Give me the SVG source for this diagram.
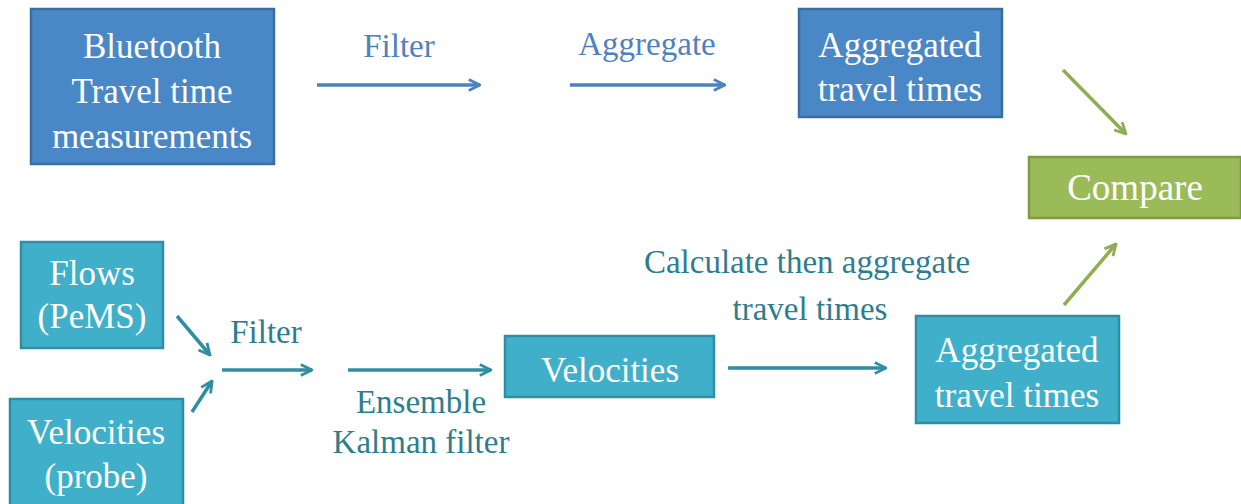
<svg xmlns="http://www.w3.org/2000/svg" width="1241" height="504" viewBox="0 0 1241 504">
<style>
text{font-family:"Liberation Serif","DejaVu Serif",serif;text-anchor:middle}
.bt{fill:#ffffff;font-size:35px}
.blue{fill:#4a87c6;stroke:#3b6d9f;stroke-width:2.5}
.cyan{fill:#40b0ca;stroke:#2f8ea4;stroke-width:2.5}
.green{fill:#9bbb59;stroke:#7e9a45;stroke-width:2.5}
.lb{fill:#4f81bd;font-size:33px}
.lc{fill:#2e7d8e;font-size:33px}
.ab{stroke:#4f81bd;stroke-width:3.5;fill:none;marker-end:url(#hb)}
.ac{stroke:#2f8ea4;stroke-width:3.5;fill:none;marker-end:url(#hc)}
.ag{stroke:#8fad52;stroke-width:3.5;fill:none;marker-end:url(#hg)}
</style>
<defs>
<marker id="hb" viewBox="0 0 10 10" refX="9" refY="5" markerWidth="4" markerHeight="4" orient="auto"><path d="M1,1 L9,5 L1,9" fill="none" stroke="#4f81bd" stroke-width="2"/></marker>
<marker id="hc" viewBox="0 0 10 10" refX="9" refY="5" markerWidth="4" markerHeight="4" orient="auto"><path d="M1,1 L9,5 L1,9" fill="none" stroke="#2f8ea4" stroke-width="2"/></marker>
<marker id="hg" viewBox="0 0 10 10" refX="9" refY="5" markerWidth="4" markerHeight="4" orient="auto"><path d="M1,1 L9,5 L1,9" fill="none" stroke="#8fad52" stroke-width="2"/></marker>
</defs>
<rect width="1241" height="504" fill="#ffffff"/>
<g id="bluetooth">
<rect class="blue" x="31" y="9" width="243" height="155"/>
<text class="bt" x="152" y="58">Bluetooth</text>
<text class="bt" x="152" y="103">Travel time</text>
<text class="bt" x="152" y="148">measurements</text>
</g>
<g id="agg-top">
<rect class="blue" x="799" y="9" width="203" height="108"/>
<text class="bt" x="900" y="57">Aggregated</text>
<text class="bt" x="900" y="101">travel times</text>
</g>
<g id="compare">
<rect class="green" x="1029" y="157" width="212" height="61"/>
<text class="bt" x="1135" y="200" style="font-size:37px">Compare</text>
</g>
<g id="flows">
<rect class="cyan" x="21" y="242" width="142" height="106"/>
<text class="bt" x="92" y="285">Flows</text>
<text class="bt" x="92" y="328">(PeMS)</text>
</g>
<g id="probe">
<rect class="cyan" x="10" y="399" width="173" height="110"/>
<text class="bt" x="96" y="444">Velocities</text>
<text class="bt" x="96" y="488">(probe)</text>
</g>
<g id="velocities">
<rect class="cyan" x="505" y="336" width="209" height="61"/>
<text class="bt" x="610" y="382">Velocities</text>
</g>
<g id="agg-bottom">
<rect class="cyan" x="916" y="316" width="203" height="107"/>
<text class="bt" x="1017" y="362">Aggregated</text>
<text class="bt" x="1017" y="407">travel times</text>
</g>
<g id="labels">
<text class="lb" x="399" y="57">Filter</text>
<text class="lb" x="647" y="55">Aggregate</text>
<text class="lc" x="266" y="343">Filter</text>
<text class="lc" x="421" y="413">Ensemble</text>
<text class="lc" x="421" y="453">Kalman filter</text>
<text class="lc" x="807" y="273">Calculate then aggregate</text>
<text class="lc" x="810" y="320">travel times</text>
</g>
<g id="connectors">
<line class="ab" x1="317" y1="85" x2="480" y2="85"/>
<line class="ab" x1="570" y1="85" x2="725" y2="85"/>
<line class="ag" x1="1063" y1="70" x2="1126" y2="134"/>
<line class="ag" x1="1064" y1="305" x2="1116" y2="244"/>
<line class="ac" x1="177" y1="316" x2="210" y2="355"/>
<line class="ac" x1="192" y1="412" x2="212" y2="381"/>
<line class="ac" x1="222" y1="370" x2="312" y2="370"/>
<line class="ac" x1="348" y1="370" x2="491" y2="370"/>
<line class="ac" x1="728" y1="368" x2="886" y2="368"/>
</g>
</svg>
